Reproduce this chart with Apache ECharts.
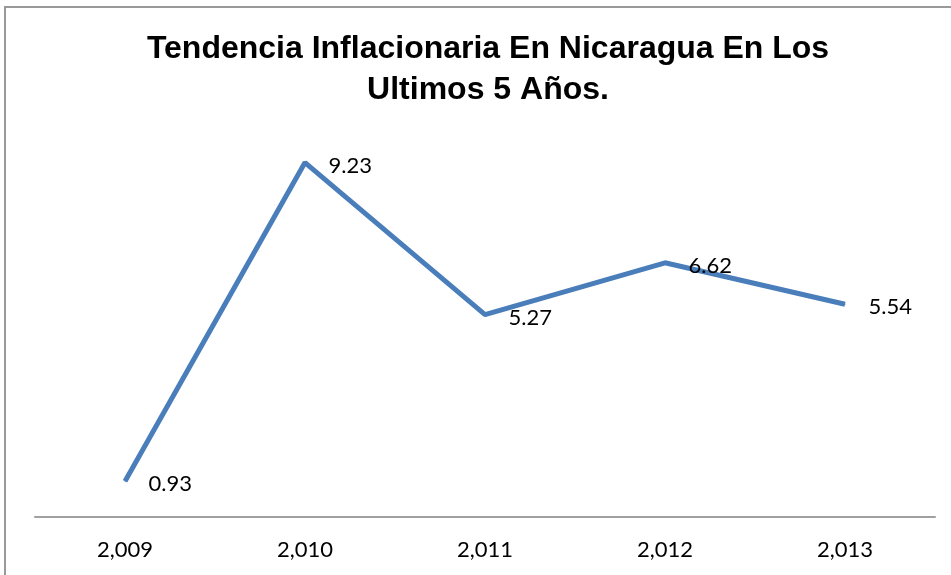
<!DOCTYPE html>
<html>
<head>
<meta charset="utf-8">
<script src="https://cdn.jsdelivr.net/npm/echarts@6/dist/echarts.min.js"></script>
<style>
  html, body { margin: 0; padding: 0; background: #fff; }
  #chart { width: 951px; height: 575px; }
</style>
</head>
<body>
<div id="chart"></div>
<script>
// datos de inflación
var years = ['2,009', '2,010', '2,011', '2,012', '2,013'];
var inflacion = [0.93, 9.23, 5.27, 6.62, 5.54];

var chart = echarts.init(document.getElementById('chart'));
var option = {
    animation: false,
    backgroundColor: '#fff',
    title: {
        text: 'Tendencia Inflacionaria En Nicaragua En Los\nUltimos 5 Años.',
        left: 483,
        top: 24,
        textAlign: 'center',
        textStyle: {
            fontFamily: 'Liberation Sans',
            fontWeight: 'bold',
            fontSize: 32,
            lineHeight: 41,
            color: '#000'
        }
    },
    graphic: [{
        type: 'rect',
        shape: { x: 5, y: 7, width: 1000, height: 700 },
        style: { fill: 'none', stroke: '#999', lineWidth: 2 },
        silent: true
    }],
    grid: {
        left: 35,
        right: 16,
        top: 133,
        bottom: 58
    },
    xAxis: {
        type: 'category',
        boundaryGap: true,
        data: years,
        axisLine: { lineStyle: { color: '#a0a0a0', width: 2 } },
        axisTick: { show: false },
        axisLabel: {
            margin: 22,
            fontFamily: 'Lato',
            fontSize: 22,
            color: '#000'
        }
    },
    yAxis: {
        type: 'value',
        min: 0,
        max: 10,
        show: false,
        splitLine: { show: false }
    },
    series: [{
        name: 'Inflación',
        type: 'line',
        data: inflacion,
        symbol: 'circle',
        symbolSize: 1,
        showSymbol: true,
        itemStyle: { color: '#4a7ebb' },
        lineStyle: { color: '#4a7ebb', width: 5 },
        label: {
            show: true,
            position: 'right',
            distance: 23,
            offset: [0, 3],
            fontFamily: 'Lato',
            fontSize: 22,
            color: '#000'
        }
    }]
};
chart.setOption(option);
</script>
</body>
</html>
